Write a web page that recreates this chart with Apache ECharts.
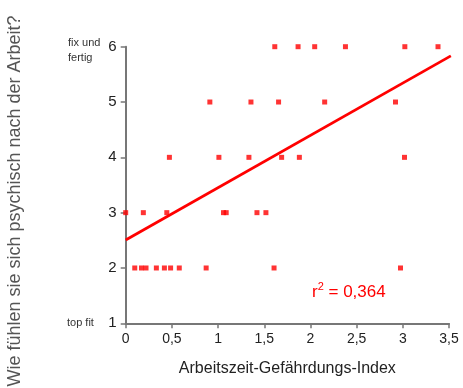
<!DOCTYPE html>
<html><head><meta charset="utf-8">
<script src="https://cdn.jsdelivr.net/npm/echarts@6/dist/echarts.min.js"></script>
<style>html,body{margin:0;padding:0;background:#fff}#c{width:463px;height:388px}</style>
</head><body><div id="c"></div>
<script>
// Data
const score6 = [1.614, 1.866, 2.046, 2.379, 3.022, 3.381];
const score5 = [0.911, 1.356, 1.655, 2.154, 2.921];
const score4 = [0.473, 1.009, 1.334, 1.688, 1.880, 3.018];
const score3 = [0.0, 0.191, 0.445, 1.059, 1.088, 1.421, 1.518];
const score2 = [0.098, 0.171, 0.220, 0.332, 0.419, 0.486, 0.580, 0.871, 1.606, 2.975];
const trendX = [0, 3.52];
const trendY = [2.506, 5.834];
const xTicks = ['0', '0,5', '1', '1,5', '2', '2,5', '3', '3,5'];
const yTicks = ['1', '2', '3', '4', '5', '6'];
const r2Text = '0,364';

const groups = [[6, score6], [5, score5], [4, score4], [3, score3], [2, score2]];
const points = [];
groups.forEach(([y, xs]) => xs.forEach(x => points.push([x, y])));
const trend = trendX.map((x, i) => [x, trendY[i]]);

const chart = echarts.init(document.getElementById('c'), null, {renderer: 'canvas'});
const font = 'Liberation Sans, Arial, sans-serif';
chart.setOption({
  animation: false,
  backgroundColor: '#fff',
  grid: {left: 125.7, right: 14, top: 46.7, bottom: 64.7},
  xAxis: {
    type: 'value', min: 0, max: 3.5, interval: 0.5,
    axisLine: {show: true, lineStyle: {color: '#777', width: 2}},
    axisTick: {show: true, length: 5, lineStyle: {color: '#777', width: 1.5}},
    splitLine: {show: false},
    axisLabel: {color: '#222', fontSize: 14, fontFamily: font, margin: 9,
      formatter: v => xTicks[Math.round(v / 0.5)]},
    name: 'Arbeitszeit-Gefährdungs-Index', nameLocation: 'middle', nameGap: 37,
    nameTextStyle: {color: '#222', fontSize: 16, fontFamily: font}
  },
  yAxis: {
    type: 'value', min: 1, max: 6, interval: 1,
    axisLine: {show: true, lineStyle: {color: '#777', width: 2}},
    axisTick: {show: true, length: 5, lineStyle: {color: '#777', width: 1.5}},
    splitLine: {show: false},
    axisLabel: {color: '#222', fontSize: 15, fontFamily: font, margin: 9,
      formatter: v => yTicks[Math.round(v) - 1]}
  },
  series: [
    {type: 'scatter', data: points, symbol: 'rect', symbolSize: 5,
     itemStyle: {color: '#ff0000'}, z: 3},
    {type: 'line', data: trend, symbol: 'none', lineStyle: {color: '#ff0000', width: 2.8}, z: 2}
  ],
  graphic: [
    {type: 'text', left: 68, top: 35, style: {text: 'fix und\nfertig', fill: '#333', font: '11px ' + font, lineHeight: 15}},
    {type: 'text', left: 67, top: 317, style: {text: 'top fit', fill: '#333', font: '11px ' + font}},
    {type: 'text', x: 15, y: 201, rotation: Math.PI / 2,
     style: {text: 'Wie fühlen sie sich psychisch nach der Arbeit?', fill: '#555', font: '18px ' + font,
       align: 'center', verticalAlign: 'middle'}},
    {type: 'text', left: 312, top: 281,
     style: {text: '{a|r}{s|2}{a| = ' + r2Text + '}',
       rich: {a: {fill: '#ff0000', fontSize: 17, fontFamily: font, verticalAlign: 'bottom', lineHeight: 20},
              s: {fill: '#ff0000', fontSize: 11, fontFamily: font, verticalAlign: 'top', lineHeight: 20, padding: [0, 0, 10, 0]}}}}
  ]
});
</script></body></html>
